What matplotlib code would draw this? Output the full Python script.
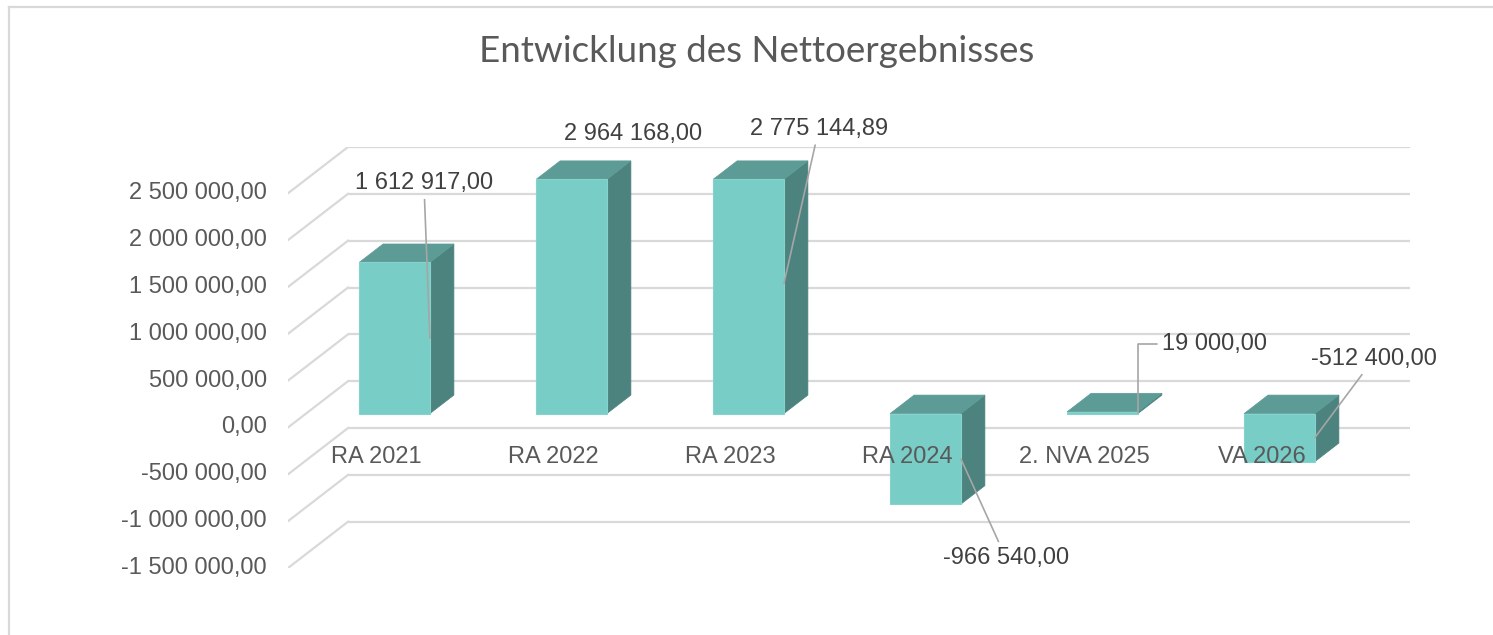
import matplotlib
matplotlib.use("Agg")
import matplotlib.pyplot as plt
from matplotlib.patches import Polygon
from matplotlib.lines import Line2D

# ---------------- data ----------------
categories = ["RA 2021", "RA 2022", "RA 2023", "RA 2024", "2. NVA 2025", "VA 2026"]
values = [1612917.00, 2964168.00, 2775144.89, -966540.00, 19000.00, -512400.00]
y_ticks = [-1500000, -1000000, -500000, 0, 500000, 1000000, 1500000, 2000000, 2500000]
title = "Entwicklung des Nettoergebnisses"

# ---------------- style / layout ----------------
W, H = 1493, 635
PX = 0.72                      # points per pixel at dpi 100
DX = 60 / 177                  # wall depth along x (category units)
DY = 494000                    # wall depth along y (value units)
ZF = 0.30                      # bar front face position in depth
DZ = 0.40                      # bar depth
BW = 0.40                      # bar width (category units)
YMIN, YMAX = y_ticks[0], y_ticks[-1]

C_FRONT = "#79CDC7"
C_TOP = "#5D9B97"
C_SIDE = "#4D837F"
C_GRID = "#D9D9D9"
C_TXT = "#595959"
C_LBL = "#404040"
C_LEAD = "#A6A6A6"

# data-label offsets (pixels, right / up) relative to leader anchor
label_offsets = [(-6, 155), (26, 141), (35, 155), (45, -99), (77, 69), (59, 79)]
show_leader = [True, False, True, True, True, True]


def fmt(v):
    s = f"{abs(v):,.2f}".replace(",", " ").replace(".", ",")
    return ("-" if v < 0 else "") + s


fig = plt.figure(figsize=(W / 100, H / 100), dpi=100)
fig.patch.set_facecolor("white")

ax = fig.add_axes([288 / W, (H - 568) / H, (1410 - 288) / W, (568 - 147) / H])
ax.set_xlim(-0.5, len(categories) - 0.5 + DX)
ax.set_ylim(YMIN, YMAX + DY)
ax.axis("off")

# walls: back gridlines + side diagonals
x0 = -0.5
x1 = len(categories) - 0.5
for v in y_ticks:
    ax.add_line(Line2D([x0 + DX, x1 + DX], [v + DY, v + DY], color=C_GRID, lw=1.6,
                       zorder=1, solid_capstyle="butt"))
    ax.add_line(Line2D([x0, x0 + DX], [v, v + DY], color=C_GRID, lw=1.6, zorder=1))
    ax.annotate(fmt(v), xy=(x0, v), xytext=(-21 * PX, 0), textcoords="offset points",
                ha="right", va="center", fontsize=17, color=C_TXT,
                fontfamily="Liberation Sans", annotation_clip=False)

# bars
base = ZF * DY
ox, oy = DZ * DX, DZ * DY
for i, v in enumerate(values):
    vc = min(max(v, YMIN), YMAX)
    xl = i - BW / 2 + ZF * DX
    xr = i + BW / 2 + ZF * DX
    yb = base + min(0, vc)
    yt = base + max(0, vc)
    side = Polygon([(xr, yb), (xr, yt), (xr + ox, yt + oy), (xr + ox, yb + oy)],
                   closed=True, facecolor=C_SIDE, edgecolor=C_SIDE, lw=0.5, zorder=3)
    top = Polygon([(xl, yt), (xr, yt), (xr + ox, yt + oy), (xl + ox, yt + oy)],
                  closed=True, facecolor=C_TOP, edgecolor=C_TOP, lw=0.5, zorder=3)
    front = Polygon([(xl, yb), (xr, yb), (xr, yt), (xl, yt)],
                    closed=True, facecolor=C_FRONT, edgecolor="#86D3CD", lw=0.8, zorder=4)
    ax.add_patch(side)
    ax.add_patch(top)
    ax.add_patch(front)

    # data label with leader line
    anchor = (xr, base + v / 2)
    dxp, dyp = label_offsets[i]
    kw = dict(xy=anchor, xytext=(dxp * PX, dyp * PX), textcoords="offset points",
              ha="center", va="center", fontsize=17, color=C_LBL,
              fontfamily="Liberation Sans", annotation_clip=False, zorder=6)
    if show_leader[i]:
        if i == 4:
            kw["arrowprops"] = dict(arrowstyle="-", color=C_LEAD, lw=1.2,
                                    connectionstyle="angle,angleA=0,angleB=90,rad=0",
                                    relpos=(0, 0.5), shrinkA=4, shrinkB=0, patchA=None)
        else:
            kw["arrowprops"] = dict(arrowstyle="-", color=C_LEAD, lw=1.2,
                                    shrinkA=2, shrinkB=0)
    ax.annotate(fmt(v), **kw)

# category labels
for i, c in enumerate(categories):
    ax.annotate(c, xy=(i, 0), xytext=(0, -30 * PX), textcoords="offset points",
                ha="center", va="center", fontsize=17, color=C_TXT,
                fontfamily="Liberation Sans", annotation_clip=False, zorder=7)

# title
fig.text(757 / W, 1 - 52 / H, title, ha="center", va="center", fontsize=26.5,
         color=C_TXT, fontfamily="Lato")

# chart border (top and left visible)
fig.add_artist(Line2D([8.5 / W, 1.0], [1 - 7 / H, 1 - 7 / H], transform=fig.transFigure,
                      color=C_GRID, lw=1.6))
fig.add_artist(Line2D([8.5 / W, 8.5 / W], [0.0, 1 - 7 / H], transform=fig.transFigure,
                      color=C_GRID, lw=1.6))

fig.savefig("out.png", dpi=100, facecolor="white")
